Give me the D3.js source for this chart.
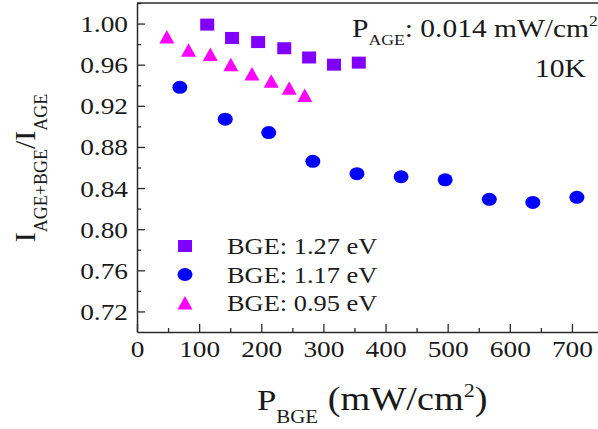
<!DOCTYPE html>
<html>
<head>
<meta charset="utf-8">
<script src="https://cdnjs.cloudflare.com/ajax/libs/d3/7.8.5/d3.min.js"></script>
<style>
  body { margin: 0; background: #fff; }
  svg { display: block; }
  text { font-family: "Liberation Serif", "Times New Roman", serif; fill: #1a1a1a; }
</style>
</head>
<body>
<div id="chart"></div>
<script>
// P_BGE (mW/cm^2) and normalised intensity
var bge127X = [113, 153, 195, 237, 277, 317, 357];
var bge127Y = [0.999, 0.986, 0.982, 0.976, 0.967, 0.960, 0.962];

var bge117X = [69, 142, 212, 283, 354, 425, 496, 567, 637, 708];
var bge117Y = [0.938, 0.907, 0.894, 0.866, 0.854, 0.851, 0.848, 0.829, 0.826, 0.831];

var bge095X = [48, 83, 118, 151, 185, 216, 245, 270];
var bge095Y = [0.987, 0.974, 0.970, 0.960, 0.951, 0.944, 0.937, 0.930];

var seriesNames = ["BGE: 1.27 eV", "BGE: 1.17 eV", "BGE: 0.95 eV"];
var xTicks = [0, 100, 200, 300, 400, 500, 600, 700];
var xMinor = [50, 150, 250, 350, 450, 550, 650, 750];
var yTicks = [0.72, 0.76, 0.80, 0.84, 0.88, 0.92, 0.96, 1.00];
var yMinor = [0.74, 0.78, 0.82, 0.86, 0.90, 0.94, 0.98, 1.02];

var W = 598, H = 429;
var sx = 1.14; // the original picture is a little stretched sideways

var svg = d3.select("#chart").append("svg")
    .attr("width", W)
    .attr("height", H);

var x = d3.scaleLinear().domain([0, 750]).range([137, 603]);
var y = d3.scaleLinear().domain([0.70, 1.02]).range([332, 3]);

var axisColor = "#2a2a2a";

// frame top line
svg.append("line")
    .attr("x1", x(0)).attr("x2", x(750))
    .attr("y1", y(1.02)).attr("y2", y(1.02))
    .attr("stroke", axisColor).attr("stroke-width", 1.5);

// minor ticks
svg.append("g")
    .attr("transform", "translate(0," + y(0.70) + ")")
    .call(d3.axisBottom(x).tickValues(xMinor).tickSize(-4).tickSizeOuter(0).tickFormat(""))
    .call(function(g){ g.select(".domain").remove(); })
    .selectAll("line").attr("stroke", axisColor).attr("stroke-width", 1.3);

svg.append("g")
    .attr("transform", "translate(" + x(0) + ",0)")
    .call(d3.axisLeft(y).tickValues(yMinor).tickSize(-4).tickSizeOuter(0).tickFormat(""))
    .call(function(g){ g.select(".domain").remove(); })
    .selectAll("line").attr("stroke", axisColor).attr("stroke-width", 1.3);

// x axis
var xAxisGroup = svg.append("g")
    .attr("transform", "translate(0," + y(0.70) + ")")
    .call(d3.axisBottom(x).tickValues(xTicks).tickSize(-8).tickSizeOuter(0).tickPadding(10)
        .tickFormat(d3.format("d")));
xAxisGroup.select(".domain").attr("stroke", axisColor).attr("stroke-width", 1.5);
xAxisGroup.selectAll("line").attr("stroke", axisColor).attr("stroke-width", 1.3);
xAxisGroup.selectAll("text")
    .attr("font-size", "24px")
    .attr("y", 25).attr("dy", 0)
    .attr("transform", "scale(" + sx + ",1)");

// y axis
var yAxisGroup = svg.append("g")
    .attr("transform", "translate(" + x(0) + ",0)")
    .call(d3.axisLeft(y).tickValues(yTicks).tickSize(-8).tickSizeOuter(0).tickPadding(9)
        .tickFormat(d3.format(".2f")));
yAxisGroup.select(".domain").attr("stroke", axisColor).attr("stroke-width", 1.5);
yAxisGroup.selectAll("line").attr("stroke", axisColor).attr("stroke-width", 1.3);
yAxisGroup.selectAll("text")
    .attr("font-size", "24px")
    .attr("x", -9 / sx).attr("dy", 0).attr("y", 8)
    .attr("transform", "scale(" + sx + ",1)");

// marker shapes
function squarePath(){ return "M-7,-6H7V6H-7Z"; }
function trianglePath(){ return "M0,-7L7.5,6.5L-7.5,6.5Z"; }

var colors = ["#7f00ff", "#0000ff", "#ff00ff"];

var plot = svg.append("g");

// circles (1.17 eV)
plot.selectAll(".c117")
    .data(d3.zip(bge117X, bge117Y))
    .enter().append("ellipse")
        .attr("class", "c117")
        .attr("cx", function(d){ return x(d[0]); })
        .attr("cy", function(d){ return y(d[1]); })
        .attr("rx", 7.5).attr("ry", 6.5)
        .attr("fill", colors[1]);

// squares (1.27 eV)
plot.selectAll(".s127")
    .data(d3.zip(bge127X, bge127Y))
    .enter().append("path")
        .attr("class", "s127")
        .attr("d", squarePath())
        .attr("transform", function(d){ return "translate(" + x(d[0]) + "," + y(d[1]) + ")"; })
        .attr("fill", colors[0]);

// triangles (0.95 eV)
plot.selectAll(".t095")
    .data(d3.zip(bge095X, bge095Y))
    .enter().append("path")
        .attr("class", "t095")
        .attr("d", trianglePath())
        .attr("transform", function(d){ return "translate(" + x(d[0]) + "," + y(d[1]) + ")"; })
        .attr("fill", colors[2]);

// legend
var legend = svg.append("g").attr("transform", "translate(185,246)");
var shapes = ["square", "circle", "triangle"];
shapes.forEach(function(s, i){
    var row = legend.append("g").attr("transform", "translate(0," + (i * 28.5) + ")");
    if (s === "circle") {
        row.append("ellipse").attr("rx", 7.5).attr("ry", 6.5).attr("fill", colors[i]);
    } else {
        row.append("path").attr("d", s === "square" ? squarePath() : trianglePath()).attr("fill", colors[i]);
    }
    row.append("text")
        .attr("transform", "translate(42,8) scale(1.1,1)")
        .attr("font-size", "24px")
        .text(seriesNames[i]);
});

// annotation: P_AGE
var ann = svg.append("text")
    .attr("transform", "translate(352,37) scale(1.18,1)")
    .attr("font-size", "25px");
ann.append("tspan").text("P");
ann.append("tspan").attr("font-size", "15px").attr("dy", 8).text("AGE");
ann.append("tspan").attr("dy", -8).text(": 0.014 mW/cm");
ann.append("tspan").attr("font-size", "15px").attr("dy", -11).text("2");

svg.append("text")
    .attr("transform", "translate(586,77) scale(" + sx + ",1)")
    .attr("text-anchor", "end")
    .attr("font-size", "26px")
    .text("10K");

// x axis title
var xt = svg.append("text")
    .attr("transform", "translate(257,410) scale(1.16,1)")
    .attr("font-size", "30px");
xt.append("tspan").text("P");
xt.append("tspan").attr("font-size", "18px").attr("dy", 13).text("BGE");
xt.append("tspan").attr("dy", -13).attr("font-size", "33px").text(" (mW/cm");
xt.append("tspan").attr("font-size", "19px").attr("dy", -13).text("2");
xt.append("tspan").attr("dy", 13).attr("font-size", "33px").text(")");

// y axis title
var yt = svg.append("text")
    .attr("transform", "translate(35,168) rotate(-90)")
    .attr("text-anchor", "middle")
    .attr("font-size", "30px");
yt.append("tspan").text("I");
yt.append("tspan").attr("font-size", "18px").attr("dy", 12).text("AGE+BGE");
yt.append("tspan").attr("dy", -12).text("/I");
yt.append("tspan").attr("font-size", "18px").attr("dy", 12).text("AGE");
</script>
</body>
</html>
